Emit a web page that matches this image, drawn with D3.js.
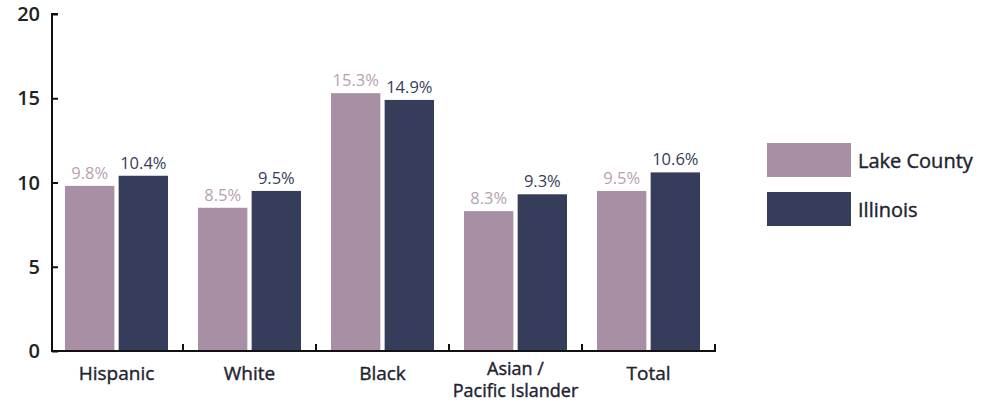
<!DOCTYPE html>
<html><head><meta charset="utf-8">
<script src="https://cdn.jsdelivr.net/npm/d3@7"></script>
<style>body{margin:0;background:#fff}svg{display:block}</style>
</head><body>
<svg id="c" width="990" height="404"></svg>
<script>
const categories = [["Hispanic"],["White"],["Black"],["Asian /","Pacific Islander"],["Total"]];
const seriesNames = ["Lake County","Illinois"];
const lakeCounty = [9.8, 8.5, 15.3, 8.3, 9.5];
const illinois = [10.4, 9.5, 14.9, 9.3, 10.6];
const yTicks = [0,5,10,15,20];
const colors = ["#a98fa3","#353d5b"];
const labelColors = ["#b79fb1","#353d5b"];

const svg = d3.select("#c");
const font = "'Open Sans', 'Noto Sans', sans-serif";
const x0 = d3.scaleBand().domain(d3.range(categories.length)).range([50,715]).paddingInner(0).paddingOuter(0);
const y = d3.scaleLinear().domain([0,20]).range([351,14]);
const x1 = d3.scaleBand().domain([0,1]).range([15,118]).paddingInner(0.08);

const data = categories.map((c,i)=>[lakeCounty[i], illinois[i]]);

const g = svg.append("g");
data.forEach((vals,i)=>{
  vals.forEach((v,s)=>{
    const bx = x0(i)+x1(s);
    g.append("rect").attr("x",bx).attr("y",y(v)).attr("width",x1.bandwidth()).attr("height",y(0)-y(v)).attr("fill",colors[s]);
    g.append("text").attr("x",bx+x1.bandwidth()/2).attr("y",y(v)-7).attr("text-anchor","middle")
      .attr("font-family",font).attr("font-size",16.5).attr("fill",labelColors[s]).text(v.toFixed(1)+"%");
  });
});

// y axis
const ya = svg.append("g").attr("transform","translate(52,0)").call(d3.axisRight(y).tickValues(yTicks).tickSize(6).tickFormat(""));
ya.select(".domain").attr("stroke","#111").attr("stroke-width",2).attr("d","M6,14H0V351");
ya.selectAll(".tick line").attr("stroke","#111").attr("stroke-width",2);
yTicks.forEach(t=>{
  svg.append("text").attr("x",40).attr("y",y(t)).attr("dy","0.36em").attr("text-anchor","end")
    .attr("font-family",font).attr("font-size",20).attr("font-weight",600).attr("fill","#222").text(t);
});
// x axis
svg.append("line").attr("x1",51).attr("x2",x0.range()[1]+1).attr("y1",351).attr("y2",351).attr("stroke","#111").attr("stroke-width",2);
d3.range(1,categories.length+1).forEach(i=>{
  const xx = i<categories.length ? x0(i) : x0.range()[1];
  svg.append("line").attr("x1",xx).attr("x2",xx).attr("y1",351).attr("y2",344).attr("stroke","#111").attr("stroke-width",2);
});
categories.forEach((c,i)=>{
  const t = svg.append("text").attr("x",x0(i)+x0.bandwidth()/2).attr("y",c.length>1?375:380).attr("text-anchor","middle")
    .attr("font-family",font).attr("font-size",c.length>1?18:19).attr("fill","#1e2430")
    .attr("stroke","#1e2430").attr("stroke-width",0.4);
  c.forEach((line,k)=>t.append("tspan").attr("x",x0(i)+x0.bandwidth()/2).attr("dy",k?22:0).text(line));
});
// legend
seriesNames.forEach((n,s)=>{
  svg.append("rect").attr("x",767).attr("y",143+s*49).attr("width",84).attr("height",34).attr("fill",colors[s]);
  svg.append("text").attr("x",858).attr("y",161+s*49).attr("dy","0.36em").attr("font-family",font).attr("font-size",20)
    .attr("fill","#1e2430").attr("stroke","#1e2430").attr("stroke-width",0.4).text(n);
});
</script>
</body></html>
